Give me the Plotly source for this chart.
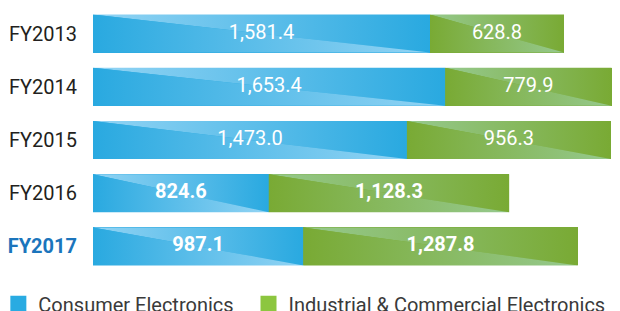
import plotly.graph_objects as go

years = ["FY2013", "FY2014", "FY2015", "FY2016", "FY2017"]
consumer = [1581.4, 1653.4, 1473.0, 824.6, 987.1]
industrial = [628.8, 779.9, 956.3, 1128.3, 1287.8]
series_names = ["Consumer Electronics", "Industrial & Commercial Electronics"]
bold_rows = [False, False, False, True, True]
highlight_year = "FY2017"

BLUE_D, BLUE_L = "#29a9e0", "#93d4f4"
GREEN_D, GREEN_L = "#79aa34", "#96c98e"
LEG_BLUE, LEG_GREEN = "#29abe2", "#8cc63f"
W = 0.715
FONT = "Roboto"

ypos = list(range(len(years)))
fig = go.Figure()

# base bars
fig.add_trace(go.Bar(y=ypos, x=consumer, orientation="h", width=W, name=series_names[0],
                     marker=dict(color=BLUE_D, line_width=0), showlegend=False, hoverinfo="skip"))
fig.add_trace(go.Bar(y=ypos, x=industrial, base=consumer, orientation="h", width=W, name=series_names[1],
                     marker=dict(color=GREEN_D, line_width=0), showlegend=False, hoverinfo="skip"))

# diagonal gradient overlays, computed from the data
def add_triangles(x0, x1, yc, dark, light):
    top, bot = yc - W / 2, yc + W / 2
    fig.add_trace(go.Scatter(x=[x0, x1, x1, x0], y=[top, top, bot, top], mode="none", fill="toself",
                             fillgradient=dict(type="horizontal", colorscale=[[0, light], [1, dark]]),
                             showlegend=False, hoverinfo="skip"))
    fig.add_trace(go.Scatter(x=[x0, x1, x0, x0], y=[top, bot, bot, top], mode="none", fill="toself",
                             fillgradient=dict(type="horizontal", colorscale=[[0, dark], [1, light]]),
                             showlegend=False, hoverinfo="skip"))

for i, (c, ind) in enumerate(zip(consumer, industrial)):
    add_triangles(0, c, ypos[i], BLUE_D, BLUE_L)
    add_triangles(c, c + ind, ypos[i], GREEN_D, GREEN_L)

# value labels
def fmt(v, b):
    s = f"{v:,.1f}"
    return f"<b>{s}</b>" if b else s

fig.add_trace(go.Scatter(x=[c / 2 for c in consumer], y=ypos, mode="text",
                         text=[fmt(v, b) for v, b in zip(consumer, bold_rows)],
                         textfont=dict(family=FONT, size=20, color="white"),
                         showlegend=False, hoverinfo="skip"))
fig.add_trace(go.Scatter(x=[c + ind / 2 for c, ind in zip(consumer, industrial)], y=ypos, mode="text",
                         text=[fmt(v, b) for v, b in zip(industrial, bold_rows)],
                         textfont=dict(family=FONT, size=20, color="white"),
                         showlegend=False, hoverinfo="skip"))

# legend entries
fig.add_trace(go.Scatter(x=[None], y=[None], mode="markers", name=series_names[0] + "\u00a0\u00a0",
                         marker=dict(symbol="square", size=16, color=LEG_BLUE)))
fig.add_trace(go.Scatter(x=[None], y=[None], mode="markers", name=series_names[1],
                         marker=dict(symbol="square", size=16, color=LEG_GREEN)))

ticktext = [f"<b><span style='color:#1b75bc'>{y}</span></b>" if y == highlight_year else y for y in years]

fig.update_layout(
    width=620, height=311,
    margin=dict(l=93, r=0, t=7, b=38, autoexpand=False),
    paper_bgcolor="white", plot_bgcolor="white",
    barmode="stack",
    font=dict(family=FONT, size=20, color="#231f20"),
    xaxis=dict(range=[0, 2473], visible=False, fixedrange=True, automargin=False),
    yaxis=dict(range=[4.5, -0.5], tickmode="array", tickvals=ypos, ticktext=ticktext,
               showgrid=False, zeroline=False, showline=False, automargin=False, fixedrange=True,
               ticks="outside", ticklen=11, tickcolor="rgba(0,0,0,0)",
               tickfont=dict(family=FONT, size=20, color="#231f20")),
    showlegend=True,
    legend=dict(orientation="h", x=-0.1796, xanchor="left", y=-0.0425, yanchor="top",
                traceorder="normal",
                font=dict(family=FONT, size=20, color="#3a3a3a"),
                itemsizing="trace",
                bgcolor="rgba(0,0,0,0)"),
)

fig.write_html("out.html", config={"displayModeBar": False},
               post_script="document.body.style.margin='0';document.body.style.overflow='hidden';")
